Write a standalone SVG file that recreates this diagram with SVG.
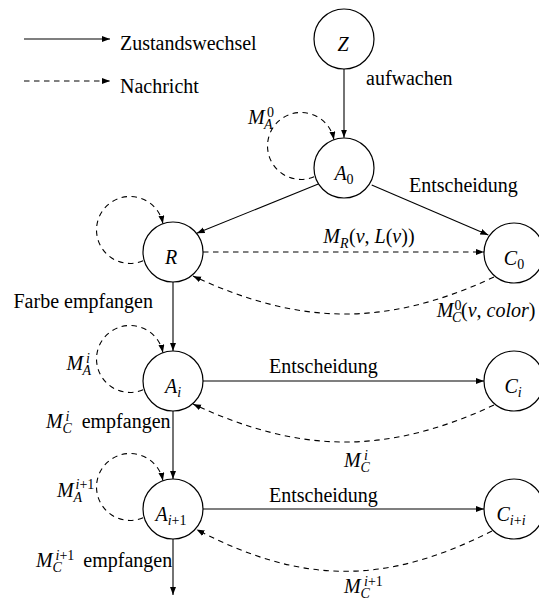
<svg xmlns="http://www.w3.org/2000/svg" width="539" height="599" viewBox="0 0 539 599">
<style>
text{font-family:"Liberation Serif","DejaVu Serif",serif;font-size:20px;fill:#000}
.i{font-style:italic}
.s{font-size:14px}
.node circle{fill:#fff;stroke:#000;stroke-width:1.2}
.node text{text-anchor:middle}
.e{fill:none;stroke:#000;stroke-width:1.1;marker-end:url(#ah)}
.d{stroke-dasharray:5.5 4.5}
</style>
<defs>
<marker id="ah" markerWidth="10" markerHeight="8" refX="8" refY="3" orient="auto" markerUnits="userSpaceOnUse">
<path d="M8,3 Q4,1.6 0,0 L0,6 Q4,4.4 8,3z" fill="#000" stroke="none"/>
</marker>
</defs>

<g id="legend">
<path class="e" d="M24,39 L110,39"/>
<text x="120" y="50">Zustandswechsel</text>
<path class="e d" d="M24,81 L110,81"/>
<text x="120" y="92.5">Nachricht</text>
</g>

<g id="connectors">
<path class="e" d="M344,69 L344,137.7"/>
<path class="e" d="M318.3,184 L196.7,233.3"/>
<path class="e" d="M371.7,185 L488.3,235"/>
<path class="e d" d="M203,252 L484,252"/>
<path class="e d" d="M494,277 C387,327 300,326 193,276"/>
<path class="e d" d="M314.1,176.8 A33.5,33.5 0 1 1 333.9,139.6"/>
<path class="e d" d="M143.1,260.8 A33.5,33.5 0 1 1 162.9,223.6"/>
<path class="e" d="M173,282 L173,351"/>
<path class="e" d="M203,381 L484,381"/>
<path class="e d" d="M143.1,389.8 A33.5,33.5 0 1 1 162.9,352.6"/>
<path class="e d" d="M494,405 C387,455 300,454 193,404"/>
<path class="e" d="M173,411 L173,479"/>
<path class="e d" d="M143.1,517.8 A33.5,33.5 0 1 1 162.9,480.6"/>
<path class="e" d="M203,509 L484,509"/>
<path class="e d" d="M492,531 C386,585 302,585 196.5,529.5"/>
<path class="e" d="M173,539 L173,595"/>
</g>

<g id="labels">
<text x="366" y="85">aufwachen</text>
<text x="409" y="191.5">Entscheidung</text>
<text x="13.5" y="308">Farbe empfangen</text>
<text x="269" y="372.5">Entscheidung</text>
<text x="269" y="501.5">Entscheidung</text>
<text x="248" y="124"><tspan class="i">M</tspan><tspan class="s i" x="264" y="128.5">A</tspan><tspan class="s" x="267" y="116.5">0</tspan></text>
<text x="66.5" y="370"><tspan class="i">M</tspan><tspan class="s i" x="82.5" y="374.5">A</tspan><tspan class="s i" x="86" y="362.5">i</tspan></text>
<text x="57" y="497"><tspan class="i">M</tspan><tspan class="s i" x="73.5" y="501.5">A</tspan><tspan class="s" x="75.5" y="489"><tspan class="i">i</tspan>+1</tspan></text>
<text x="46" y="428"><tspan class="i">M</tspan><tspan class="s i" x="62.5" y="432.5">C</tspan><tspan class="s i" x="65.5" y="420.5">i</tspan><tspan x="81.7" y="428">empfangen</tspan></text>
<text x="36" y="567"><tspan class="i">M</tspan><tspan class="s i" x="52.5" y="571.5">C</tspan><tspan class="s" x="55.5" y="559.5"><tspan class="i">i</tspan>+1</tspan><tspan x="83.3" y="567">empfangen</tspan></text>
<text x="323.3" y="243"><tspan class="i">M</tspan><tspan class="s i" x="340" y="247.5">R</tspan><tspan x="349" y="243">(<tspan class="i">v</tspan>, <tspan class="i">L</tspan>(<tspan class="i">v</tspan>))</tspan></text>
<text x="436.7" y="317"><tspan class="i">M</tspan><tspan class="s i" x="452" y="321.5">C</tspan><tspan class="s" x="454.5" y="309.5">0</tspan><tspan x="461" y="317">(<tspan class="i">v</tspan>, <tspan class="i">color</tspan>)</tspan></text>
<text x="344" y="467"><tspan class="i">M</tspan><tspan class="s i" x="360.5" y="471.5">C</tspan><tspan class="s i" x="364" y="459.5">i</tspan></text>
<text x="344" y="593"><tspan class="i">M</tspan><tspan class="s i" x="360.5" y="597.5">C</tspan><tspan class="s" x="364" y="585.5"><tspan class="i">i</tspan>+1</tspan></text>
</g>

<g id="Z" class="node"><circle cx="344" cy="39" r="30"/><text class="i" x="343" y="50.5">Z</text></g>
<g id="A0" class="node"><circle cx="344" cy="168" r="30"/><text x="344" y="180"><tspan class="i">A</tspan><tspan class="s" dy="4">0</tspan></text></g>
<g id="R" class="node"><circle cx="173" cy="252" r="30"/><text class="i" x="171" y="263.5">R</text></g>
<g id="C0" class="node"><circle cx="514" cy="253" r="30"/><text x="514" y="265"><tspan class="i">C</tspan><tspan class="s" dy="4">0</tspan></text></g>
<g id="Ai" class="node"><circle cx="173" cy="381" r="30"/><text x="173" y="392.5"><tspan class="i">A</tspan><tspan class="s i" dy="4">i</tspan></text></g>
<g id="Ci" class="node"><circle cx="514" cy="381" r="30"/><text x="513" y="392.5"><tspan class="i">C</tspan><tspan class="s i" dy="4">i</tspan></text></g>
<g id="Ai1" class="node"><circle cx="173" cy="509" r="30"/><text x="171" y="520.5"><tspan class="i">A</tspan><tspan class="s" dy="4"><tspan class="i">i</tspan>+1</tspan></text></g>
<g id="Cii" class="node"><circle cx="514" cy="509" r="30"/><text x="511" y="520.5"><tspan class="i">C</tspan><tspan class="s" dy="4"><tspan class="i">i</tspan>+<tspan class="i">i</tspan></tspan></text></g>
</svg>
